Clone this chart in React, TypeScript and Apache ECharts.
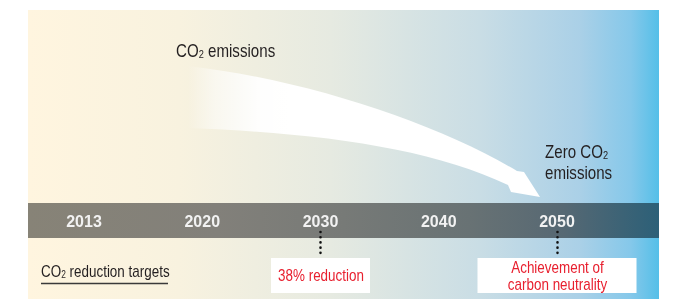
import React, { useEffect, useRef } from 'react';
import * as echarts from 'echarts';

// ---- data ----
const years = ['2013', '2020', '2030', '2040', '2050'];
const targetYears = ['2030', '2050'];
const targetTexts = ['38% reduction', 'Achievement of\ncarbon neutrality'];
const emissionsLabel = ['CO', '2', ' emissions'];
const zeroLabel = ['Zero CO', '2', 'emissions'];
const targetsTitle = ['CO', '2', ' reduction targets'];

const FONT = "'Liberation Sans', Arial, Helvetica, sans-serif";
const NARROW_SCALE = 0.84;
const INK = '#231F20';
const RED = '#E8202F';

const ARROW_D =
  'M188 66 C310 80 440 125 517 171 L524 172 L540 197 L511 192 L508 185 C430 148 320 133 188 128 Z';

let registered = false;
function ensureShape() {
  if (registered) return;
  echarts.graphic.registerShape('co2arrow', echarts.graphic.extendPath(ARROW_D, {}) as any);
  registered = true;
}

export default function App() {
  const ref = useRef<HTMLDivElement>(null);

  useEffect(() => {
    if (!ref.current) return;
    ensureShape();
    const chart = echarts.init(ref.current, undefined, { renderer: 'svg' });

    const boxW = [99, 159];
    const boxY = 265.5;
    const richMain = (size: number, sub: number, lh: number) => ({
      a: { fontSize: size, fontFamily: FONT, fill: INK, lineHeight: lh, verticalAlign: 'bottom' },
      b: { fontSize: sub, fontFamily: FONT, fill: INK, lineHeight: lh, verticalAlign: 'bottom' },
    });

    const baseGraphic: any[] = [
      {
        id: 'bg',
        type: 'rect',
        z: 0,
        silent: true,
        shape: { x: 28, y: 10, width: 631, height: 289 },
        style: {
          fill: {
            type: 'linear', x: 28, y: 0, x2: 659, y2: 0, global: true,
            colorStops: [
              { offset: 0, color: '#FFF5DF' },
              { offset: 0.24, color: '#F8F2DF' },
              { offset: 0.48, color: '#E6EAE1' },
              { offset: 0.716, color: '#C9DDE5' },
              { offset: 0.875, color: '#AAD0E7' },
              { offset: 0.955, color: '#85C8EA' },
              { offset: 1, color: '#55BFE8' },
            ],
          },
        },
      },
      {
        id: 'band',
        type: 'rect',
        z: 1,
        silent: true,
        shape: { x: 28, y: 203, width: 631, height: 35 },
        style: {
          fill: {
            type: 'linear', x: 28, y: 0, x2: 659, y2: 0, global: true,
            colorStops: [
              { offset: 0, color: '#878377' },
              { offset: 0.3, color: '#82807A' },
              { offset: 0.5, color: '#777A77' },
              { offset: 0.7, color: '#687274' },
              { offset: 0.85, color: '#566873' },
              { offset: 1, color: '#2C6078' },
            ],
          },
        },
      },
      {
        id: 'arrow',
        type: 'co2arrow',
        z: 1,
        silent: true,
        x: 0,
        y: 0,
        scaleX: 1,
        scaleY: 1,
        style: {
          fill: {
            type: 'linear', x: 188, y: 0, x2: 290, y2: 0, global: true,
            colorStops: [
              { offset: 0, color: 'rgba(255,255,255,0)' },
              { offset: 0.26, color: 'rgba(255,255,255,0.5)' },
              { offset: 0.7, color: 'rgba(255,255,255,0.95)' },
              { offset: 1, color: 'rgba(255,255,255,1)' },
            ],
          },
        },
      },
      {
        id: 't-emis',
        type: 'text',
        z: 3,
        silent: true,
        x: 176,
        y: 50,
        scaleX: NARROW_SCALE,
        style: {
          text: `{a|${emissionsLabel[0]}}{b|${emissionsLabel[1]}}{a|${emissionsLabel[2]}}`,
          rich: richMain(18, 11, 20),
          verticalAlign: 'middle',
          align: 'left',
        },
      },
      {
        id: 't-zero',
        type: 'text',
        z: 3,
        silent: true,
        x: 545,
        y: 161,
        scaleX: NARROW_SCALE,
        style: {
          text: `{a|${zeroLabel[0]}}{b|${zeroLabel[1]}}\n{a|${zeroLabel[2]}}`,
          rich: richMain(18, 11, 21),
          verticalAlign: 'middle',
          align: 'left',
        },
      },
      {
        id: 't-targets',
        type: 'text',
        z: 3,
        silent: true,
        x: 41,
        y: 271,
        scaleX: NARROW_SCALE,
        style: {
          text: `{a|${targetsTitle[0]}}{b|${targetsTitle[1]}}{a|${targetsTitle[2]}}`,
          rich: richMain(16, 10, 18),
          verticalAlign: 'middle',
          align: 'left',
        },
      },
      {
        id: 'underline',
        type: 'line',
        z: 3,
        silent: true,
        shape: { x1: 41, y1: 283.5, x2: 168, y2: 283.5 },
        style: { stroke: '#3A3A3A', lineWidth: 1.5 },
      },
    ];

    const option: any = {
      animation: false,
      grid: { left: 24.875, right: 67.875, top: 10, bottom: 0 },
      xAxis: {
        type: 'category',
        data: years,
        boundaryGap: true,
        offset: -78,
        z: 10,
        axisLine: { show: false },
        axisTick: { show: false },
        splitLine: { show: false },
        axisLabel: {
          color: '#F2F2F2',
          fontWeight: 'bold',
          fontSize: 16,
          fontFamily: FONT,
          margin: 0,
          verticalAlign: 'middle',
        },
      },
      yAxis: { type: 'value', min: 0, max: 289, inverse: true, show: false },
      graphic: baseGraphic,
      series: [
        {
          type: 'line',
          data: years.map(() => null),
          z: 10,
          silent: true,
          symbol: 'none',
          markLine: {
            silent: true,
            symbol: 'none',
            label: { show: false },
            lineStyle: { color: '#111', width: 2.6, type: [0.01, 5.2], cap: 'round' },
            data: targetYears.map((y) => [{ coord: [y, 222] }, { coord: [y, 243] }]),
          },
          markPoint: {
            silent: true,
            symbol: 'rect',
            itemStyle: { color: '#FFFFFF' },
            label: { show: false },
            data: targetYears.map((y, i) => ({
              name: targetTexts[i],
              coord: [y, boxY],
              symbolSize: [boxW[i], 35],
            })),
          },
        },
      ],
    };

    chart.setOption(option);

    // red target captions, placed through the category scale
    const captions = targetYears.map((y, i) => {
      const p = chart.convertToPixel({ gridIndex: 0 }, [y, boxY]) as number[];
      return {
        id: 'cap' + i,
        type: 'text',
        z: 20,
        silent: true,
        x: p[0] + 0.5,
        y: p[1] + 0.5,
        scaleX: NARROW_SCALE,
        style: {
          text: targetTexts[i],
          fill: RED,
          fontSize: 16,
          fontFamily: FONT,
          lineHeight: 16.5,
          align: 'center',
          verticalAlign: 'middle',
        },
      };
    });
    chart.setOption({ graphic: [...baseGraphic, ...captions] });

    return () => chart.dispose();
  }, []);

  return (
    <div
      ref={ref}
      style={{ position: 'fixed', left: 0, top: 0, width: 684, height: 299 }}
    />
  );
}
